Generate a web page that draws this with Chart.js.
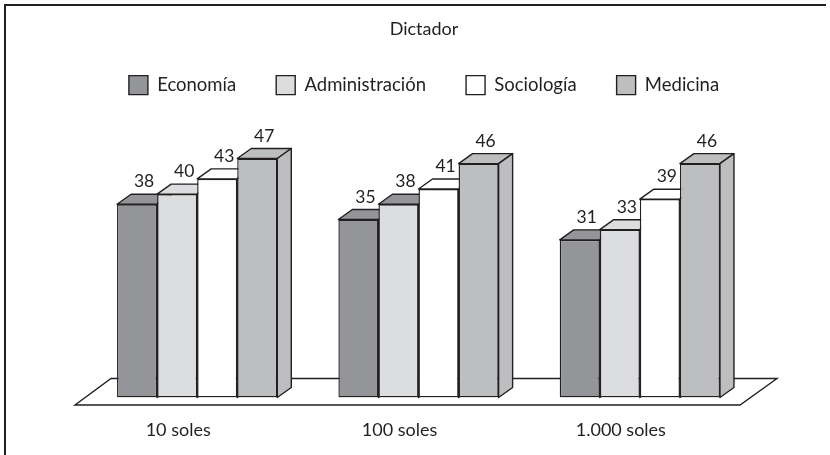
<!DOCTYPE html>
<html><head><meta charset="utf-8">
<style>html,body{margin:0;padding:0;background:#fff}#w{width:830px;height:455px;position:relative}</style>
<script src="https://cdn.jsdelivr.net/npm/chart.js@4"></script>
</head><body><div id="w"><canvas id="c" width="830" height="455"></canvas></div>
<script>
const categories = ['10 soles','100 soles','1.000 soles'];
const seriesNames = ['Economía','Administración','Sociología','Medicina'];
const economia = [38,35,31];
const administracion = [40,38,33];
const sociologia = [43,41,39];
const medicina = [47,46,46];
const fills = ['#939598','#dcddde','#ffffff','#bcbec0'];
const ink = '#231f20';
const FONT = 'Lato';
const FS = 18;
const DX = 14, DY = 10;

const threeD = {
  id:'threeD',
  beforeDraw(ch){
    const c = ch.ctx;
    c.save(); c.strokeStyle = ink; c.lineWidth = 2;
    c.beginPath(); c.moveTo(5,455); c.lineTo(5,5); c.lineTo(826,5); c.stroke();
    c.restore();
  },
  beforeDatasetsDraw(ch){
    const c = ch.ctx, a = ch.chartArea, b = ch.scales.y.getPixelForValue(0);
    c.save();
    c.strokeStyle = ink; c.lineWidth = 1.4; c.fillStyle = '#fff';
    c.beginPath();
    c.moveTo(a.left-11.5, b+7.5); c.lineTo(a.right-10.5, b+7.5);
    c.lineTo(a.right+26.5, b-19); c.lineTo(a.left+24.5, b-19); c.closePath();
    c.fill(); c.stroke();
    c.lineJoin = 'round'; c.lineWidth = 1.4;
    ch.data.datasets.forEach((ds,i)=>{
      ch.getDatasetMeta(i).data.forEach((el,j)=>{
        const l = el.x-el.width/2, r = el.x+el.width/2, t = el.y, bs = el.base;
        c.fillStyle = ds.topColors ? ds.topColors[j] : ds.backgroundColor;
        c.beginPath(); c.moveTo(l,t); c.lineTo(l+DX,t-DY); c.lineTo(r+DX,t-DY); c.lineTo(r,t); c.closePath();
        c.fill(); c.stroke();
        c.fillStyle = ds.backgroundColor;
        c.beginPath(); c.moveTo(r,t); c.lineTo(r+DX,t-DY); c.lineTo(r+DX,bs-DY); c.lineTo(r,bs); c.closePath();
        c.fill(); c.stroke();
      });
    });
    c.restore();
  },
  afterDatasetsDraw(ch){
    const c = ch.ctx;
    c.save(); c.fillStyle = ink; c.font = '17.5px '+FONT; c.textAlign='center'; c.textBaseline='alphabetic';
    ch.data.datasets.forEach((ds,i)=>{
      ch.getDatasetMeta(i).data.forEach((el,j)=>{
        c.fillText(String(ds.data[j]), el.x+7, el.y-17);
      });
    });
    c.restore();
  }
};

new Chart(document.getElementById('c'),{
  type:'bar',
  data:{labels:categories,datasets:[
    {label:seriesNames[0],data:economia,backgroundColor:fills[0]},
    {label:seriesNames[1],data:administracion,backgroundColor:fills[1],topColors:[fills[1],fills[0],fills[1]]},
    {label:seriesNames[2],data:sociologia,backgroundColor:fills[2]},
    {label:seriesNames[3],data:medicina,backgroundColor:fills[3]}
  ].map(d=>Object.assign(d,{borderColor:ink,borderWidth:1.4,borderSkipped:false,barPercentage:1,categoryPercentage:0.724}))},
  plugins:[threeD],
  options:{
    responsive:false,animation:false,
    layout:{padding:{left:86.5,right:68.5,top:14,bottom:0}},
    plugins:{
      tooltip:{enabled:false},
      title:{display:true,text:'Dictador',color:ink,font:{family:FONT,size:FS,weight:'normal'},padding:{top:4,bottom:-4}},
      legend:{display:true,position:'top',labels:{color:ink,boxWidth:19,boxHeight:19,padding:40,font:{family:FONT,size:18.5}}}
    },
    scales:{
      x:{grid:{display:false},border:{display:false},
         afterFit(s){s.height=57.5;},
         ticks:{color:ink,font:{family:FONT,size:FS},padding:14,labelOffset:-19,maxRotation:0}},
      y:{position:'right',min:0,max:57.6,grid:{display:false},border:{display:false},
         ticks:{display:false},afterFit(s){s.width=11;}}
    }
  }
});
</script></body></html>
